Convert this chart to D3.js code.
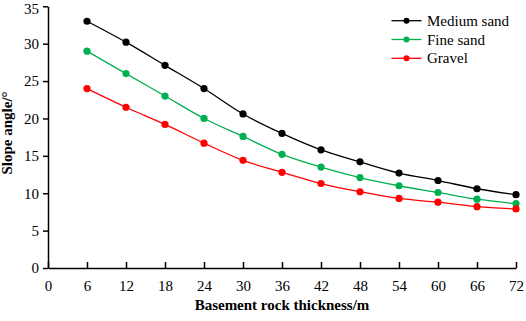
<!DOCTYPE html>
<html><head><meta charset="utf-8">
<script src="https://cdn.jsdelivr.net/npm/d3@7"></script>
<style>body{margin:0;background:#fff}svg{display:block}</style>
</head><body>
<svg id="c" width="526" height="321"></svg>
<script>
const thickness = [6,12,18,24,30,36,42,48,54,60,66,72];
const mediumSand = [33,30.2,27.1,24,20.6,18,15.8,14.2,12.7,11.7,10.6,9.8];
const fineSand = [29,26,23,20,17.6,15.2,13.5,12.1,11,10.1,9.2,8.6];
const gravel = [24,21.5,19.2,16.7,14.4,12.8,11.3,10.2,9.3,8.8,8.2,7.9];
const xTicks = [0,6,12,18,24,30,36,42,48,54,60,66,72];
const yTicks = [0,5,10,15,20,25,30,35];
const seriesNames = ["Medium sand","Fine sand","Gravel"];
const seriesColors = ["#000000","#00b050","#ff0000"];
const series = [mediumSand, fineSand, gravel];

const FF = "'Liberation Serif', 'Times New Roman', serif";
const svg = d3.select("#c");
const x = d3.scaleLinear().domain([0,72]).range([48,516]);
const y = d3.scaleLinear().domain([0,35]).range([268,6.3]);

const gx = svg.append("g").attr("transform","translate(0,268)")
  .call(d3.axisBottom(x).tickValues(xTicks).tickSizeInner(-6).tickSizeOuter(0).tickPadding(12));
const gy = svg.append("g").attr("transform","translate(48,0)")
  .call(d3.axisLeft(y).tickValues(yTicks).tickSizeInner(5).tickSizeOuter(0).tickPadding(4));
[gx,gy].forEach(g=>{
  g.attr("font-family",FF).attr("font-size",15);
  g.selectAll("path,line").attr("stroke","#000").attr("stroke-width",1.5);
  g.selectAll("text").style("font-family",FF).style("font-size","15px").attr("fill","#000");
});
gy.selectAll(".tick text").filter(d=>d===35).attr("dy","0.38em").attr("y",1.5);

const line = d3.line().x((d,i)=>x(thickness[i])).y(d=>y(d)).curve(d3.curveMonotoneX);
series.forEach((s,k)=>{
  svg.append("path").attr("d",line(s)).attr("fill","none").attr("stroke",seriesColors[k]).attr("stroke-width",1.3);
  svg.append("g").selectAll("circle").data(s).join("circle")
    .attr("cx",(d,i)=>x(thickness[i])).attr("cy",d=>y(d)).attr("r",3.6).attr("fill",seriesColors[k]);
});

const lg = svg.append("g");
seriesNames.forEach((n,k)=>{
  const yy = 20.7 + k*18.8;
  lg.append("line").attr("x1",391.5).attr("x2",421.5).attr("y1",yy).attr("y2",yy).attr("stroke",seriesColors[k]).attr("stroke-width",1.3);
  lg.append("circle").attr("cx",406.5).attr("cy",yy).attr("r",3).attr("fill",seriesColors[k]);
  lg.append("text").attr("x",427).attr("y",yy+5).text(n).style("font-family",FF).style("font-size","15px");
});

svg.append("text").attr("x",282).attr("y",310).attr("text-anchor","middle")
  .style("font-family",FF).style("font-size","15px").style("font-weight","bold").text("Basement rock thickness/m");
svg.append("text").attr("transform","translate(12,133) rotate(-90)").attr("text-anchor","middle")
  .style("font-family",FF).style("font-size","15px").style("font-weight","bold").text("Slope angle/°");
</script>
</body></html>
